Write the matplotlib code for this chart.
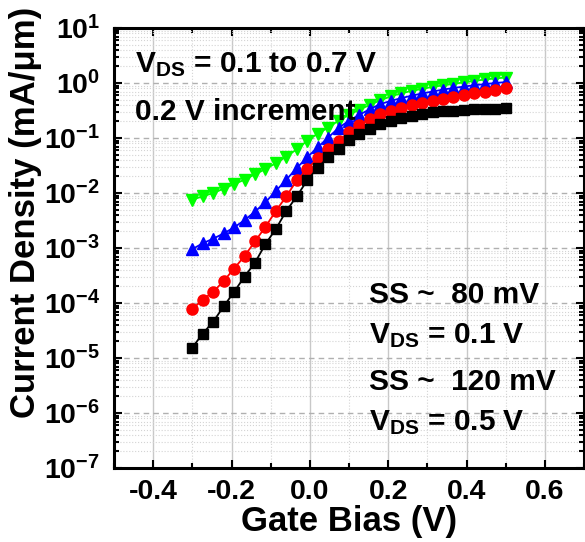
import numpy as np
import matplotlib
matplotlib.use('Agg')
import matplotlib.pyplot as plt
from matplotlib.ticker import MultipleLocator, LogLocator, FuncFormatter, NullFormatter

plt.rcParams['font.family'] = ['Liberation Sans', 'DejaVu Sans']
plt.rcParams['font.weight'] = 'bold'
plt.rcParams['mathtext.fontset'] = 'custom'
plt.rcParams['mathtext.rm'] = 'Liberation Sans:bold'
plt.rcParams['mathtext.bf'] = 'Liberation Sans:bold'
plt.rcParams['mathtext.it'] = 'Liberation Sans:bold'
plt.rcParams['axes.unicode_minus'] = False

# gate bias sweep (V)
vg = np.linspace(-0.3, 0.5, 31)

# current density (mA/um) for V_DS = 0.1, 0.3, 0.5, 0.7 V
j_01 = [1.55e-5, 2.79e-5, 4.59e-5, 8.69e-5, 1.60e-4, 3.03e-4, 5.43e-4, 1.18e-3,
        2.23e-3, 4.73e-3, 8.71e-3, 1.70e-2, 2.88e-2, 4.47e-2, 6.31e-2, 9.02e-2,
        0.117, 0.148, 0.178, 0.207, 0.234, 0.254, 0.279, 0.292, 0.304, 0.313,
        0.322, 0.331, 0.337, 0.344, 0.355]
j_03 = [7.78e-5, 1.15e-4, 1.60e-4, 2.51e-4, 4.23e-4, 7.16e-4, 1.32e-3, 2.43e-3,
        4.73e-3, 8.71e-3, 1.70e-2, 2.75e-2, 4.27e-2, 6.31e-2, 8.97e-2, 0.127,
        0.175, 0.221, 0.272, 0.313, 0.355, 0.394, 0.437, 0.474, 0.515, 0.561,
        0.610, 0.649, 0.690, 0.750, 0.798]
j_05 = [9.55e-4, 1.22e-3, 1.48e-3, 1.84e-3, 2.37e-3, 3.21e-3, 4.60e-3, 6.79e-3,
        1.09e-2, 1.75e-2, 2.85e-2, 4.47e-2, 6.76e-2, 0.102, 0.152, 0.207,
        0.265, 0.336, 0.414, 0.474, 0.531, 0.589, 0.646, 0.700, 0.759, 0.813,
        0.861, 0.912, 0.955, 1.00, 1.04]
j_07 = [7.59e-3, 8.71e-3, 1.00e-2, 1.20e-2, 1.45e-2, 1.75e-2, 2.19e-2, 2.72e-2,
        3.49e-2, 4.61e-2, 6.24e-2, 8.91e-2, 0.120, 0.154, 0.207, 0.265,
        0.327, 0.402, 0.484, 0.573, 0.649, 0.719, 0.782, 0.851, 0.906, 0.964,
        1.03, 1.09, 1.16, 1.21, 1.26]

fig = plt.figure(figsize=(5.85, 5.42), dpi=100)
ax = fig.add_axes([0.1949, 0.1365, 0.8034, 0.8118])

ax.plot(vg, j_07, 'v-', color='#00ff00', ms=9, lw=1.3)
ax.plot(vg, j_05, '^-', color='#0000ff', ms=9, lw=1.3)
ax.plot(vg, j_03, 'o-', color='#ff0000', ms=8, lw=1.3)
ax.plot(vg, j_01, 's-', color='black', ms=7, lw=1.3)

ax.set_yscale('log')
ax.set_xlim(-0.5, 0.7)
ax.set_ylim(1e-7, 10)
ax.xaxis.set_major_locator(MultipleLocator(0.2))
ax.xaxis.set_minor_locator(MultipleLocator(0.1))
ax.xaxis.set_major_formatter(FuncFormatter(lambda v, p: '%.1f' % v))
ax.yaxis.set_major_locator(LogLocator(base=10, numticks=20))
ax.yaxis.set_minor_locator(LogLocator(base=10, subs=np.arange(2, 10), numticks=20))
ax.yaxis.set_major_formatter(FuncFormatter(lambda v, p: r'$\mathbf{10^{%d}}$' % round(np.log10(v))))
ax.yaxis.set_minor_formatter(NullFormatter())

ax.grid(True, which='major', axis='x', color='#c8c8c8', lw=1, ls='-')
ax.grid(True, which='major', axis='y', color='#b0b0b0', lw=1, ls=(0, (4, 3)))
ax.grid(True, which='minor', color='#d4d4d4', lw=0.8, ls=':')
ax.set_axisbelow(True)

ax.tick_params(which='both', direction='in', top=True, right=True, width=1.5)
ax.tick_params(which='major', length=6, labelsize=20.5)
ax.tick_params(which='minor', length=3.5)
ax.tick_params(axis='x', pad=8)
ax.tick_params(axis='y', pad=10)
for s in ax.spines.values():
    s.set_linewidth(2.2)

ax.set_xlabel('Gate Bias (V)', fontsize=25, fontweight='bold', labelpad=0)
ax.set_ylabel('Current Density (mA/\u03bcm)', fontsize=25, fontweight='bold')
ax.yaxis.set_label_coords(-0.153, 0.58)

ax.text(0.045, 0.9, r'V$_{\mathbf{DS}}$ = 0.1 to 0.7 V', transform=ax.transAxes, fontsize=21.5)
ax.text(0.045, 0.791, '0.2 V increment', transform=ax.transAxes, fontsize=21.5)
ax.text(0.5426, 0.375, 'SS ~  80 mV', transform=ax.transAxes, fontsize=21.5)
ax.text(0.5426, 0.284, r'V$_{\mathbf{DS}}$ = 0.1 V', transform=ax.transAxes, fontsize=21.5)
ax.text(0.5426, 0.177, 'SS ~  120 mV', transform=ax.transAxes, fontsize=21.5)
ax.text(0.5426, 0.086, r'V$_{\mathbf{DS}}$ = 0.5 V', transform=ax.transAxes, fontsize=21.5)

fig.savefig('out.png', dpi=100)
